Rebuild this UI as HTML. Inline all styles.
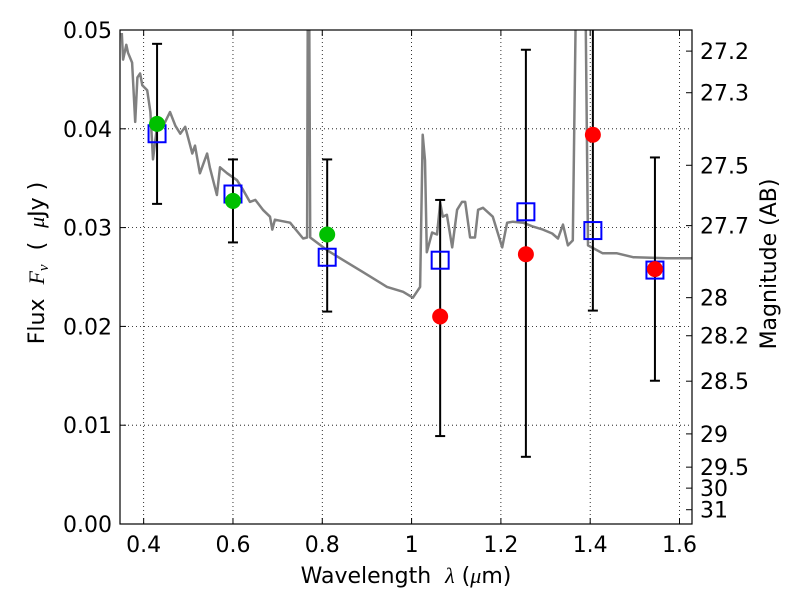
<!DOCTYPE html>
<html><head><meta charset="utf-8">
<style>
body{margin:0;background:#fff;}
svg{display:block;font-family:"DejaVu Sans","Liberation Sans",sans-serif;}
</style></head>
<body>
<svg id="chart" width="800" height="600" viewBox="0 0 800 600">
  <rect width="800" height="600" fill="#fff"/>
  <g id="grid"></g>
  <g id="plot"></g>
  <rect x="120" y="30" width="572" height="494" fill="none" stroke="#000" stroke-width="1.2"/>
  <g id="axes"></g>
  <text x="406" y="583" font-size="22" text-anchor="middle" xml:space="preserve">Wavelength  <tspan font-style="italic" font-family="Liberation Serif, serif">λ</tspan> (<tspan font-style="italic" font-family="Liberation Serif, serif">μ</tspan>m)</text>
  <text transform="translate(44,263) rotate(-90)" font-size="22" text-anchor="middle" xml:space="preserve">Flux  <tspan font-style="italic" font-family="Liberation Serif, serif">F<tspan font-size="15" dy="4">ν</tspan></tspan><tspan dy="-4">  (  </tspan><tspan font-style="italic" font-family="Liberation Serif, serif">μ</tspan>Jy )</text>
  <text transform="translate(776,264) rotate(-90)" font-size="22" text-anchor="middle">Magnitude (AB)</text>
</svg>
<script>
const xTicks=[0.4,0.6,0.8,1.0,1.2,1.4,1.6];
const xTickLabels=["0.4","0.6","0.8","1","1.2","1.4","1.6"];
const yTicks=[0,0.01,0.02,0.03,0.04,0.05];
const yTickLabels=["0.00","0.01","0.02","0.03","0.04","0.05"];
const magTicks=[27.2,27.3,27.5,27.7,28,28.2,28.5,29,29.5,30,31];
const magTickLabels=["27.2","27.3","27.5","27.7","28","28.2","28.5","29","29.5","30","31"];
const specWave=[0.351,0.354,0.361,0.365,0.374,0.381,0.386,0.392,0.397,0.408,0.415,0.421,0.430,0.444,0.459,0.471,0.482,0.493,0.509,0.515,0.526,0.542,0.548,0.564,0.571,0.587,0.609,0.623,0.638,0.650,0.667,0.683,0.688,0.694,0.728,0.757,0.766,0.768,0.770,0.773,0.811,0.847,0.891,0.945,0.981,1.003,1.019,1.025,1.030,1.034,1.046,1.057,1.064,1.070,1.079,1.091,1.102,1.113,1.120,1.131,1.142,1.149,1.160,1.182,1.203,1.214,1.227,1.250,1.272,1.294,1.315,1.328,1.339,1.350,1.361,1.370,1.388,1.395,1.428,1.460,1.496,1.572,1.628];
const specFlux=[0.0497,0.0470,0.0485,0.0477,0.0467,0.0407,0.0452,0.0456,0.0444,0.0439,0.0417,0.0369,0.0403,0.0403,0.0417,0.0403,0.0395,0.0402,0.0375,0.0383,0.0355,0.0375,0.0361,0.0333,0.0361,0.0355,0.0348,0.0338,0.0326,0.0328,0.0318,0.0311,0.0298,0.0308,0.0305,0.0289,0.0290,0.0600,0.0600,0.0290,0.0277,0.0267,0.0255,0.0240,0.0235,0.0229,0.0240,0.0394,0.0368,0.0275,0.0295,0.0293,0.0325,0.0311,0.0313,0.0280,0.0318,0.0326,0.0326,0.0290,0.0290,0.0318,0.0320,0.0311,0.0280,0.0305,0.0306,0.0305,0.0301,0.0298,0.0294,0.0289,0.0303,0.0282,0.0287,0.0600,0.0600,0.0282,0.0274,0.0274,0.0270,0.0269,0.0269];
const bandWave=[0.430,0.600,0.811,1.064,1.256,1.406,1.545];
const modelFlux=[0.0395,0.0334,0.0270,0.0267,0.0316,0.0297,0.0257];
const errHigh=[0.0486,0.0369,0.0369,0.0328,0.0480,0.0520,0.0371];
const errLow=[0.0324,0.0285,0.0215,0.0089,0.0068,0.0216,0.0145];
const detWave=[0.430,0.600,0.811];
const detFlux=[0.0405,0.0327,0.0293];
const upWave=[1.064,1.256,1.406,1.545];
const upFlux=[0.0210,0.0273,0.0394,0.0258];

const X0=120,X1=692,Y0=524,Y1=30,XMIN=0.347,XMAX=1.628,YMIN=0,YMAX=0.05;
const sx=v=>X0+(v-XMIN)/(XMAX-XMIN)*(X1-X0);
const sy=v=>Y0-(v-YMIN)/(YMAX-YMIN)*(Y0-Y1);
const magToFlux=m=>Math.pow(10,(23.9-m)/2.5);
const NS="http://www.w3.org/2000/svg";
function mk(tag,attrs,parent){const e=document.createElementNS(NS,tag);for(const k in attrs)e.setAttribute(k,attrs[k]);parent.appendChild(e);return e;}
const grid=document.getElementById('grid'),plot=document.getElementById('plot'),axes=document.getElementById('axes');
const clip=mk('clipPath',{id:'clip'},document.getElementById('chart'));
mk('rect',{x:X0,y:Y1,width:X1-X0,height:Y0-Y1},clip);
plot.setAttribute('clip-path','url(#clip)');

xTicks.forEach((t,i)=>{const x=sx(t);
 let g=mk('line',{x1:x,x2:x,y1:Y1,y2:Y0,stroke:'#000','stroke-width':0.8,'stroke-dasharray':'1,3'},grid);
 
 mk('line',{x1:x,x2:x,y1:Y0,y2:Y0-6,stroke:'#000'},axes);
 mk('line',{x1:x,x2:x,y1:Y1,y2:Y1+6,stroke:'#000'},axes);
 let l=mk('text',{x:x,y:Y0+28,'font-size':22,'text-anchor':'middle'},axes);l.textContent=xTickLabels[i];
 });
yTicks.forEach((t,i)=>{const y=sy(t);
 if(t>0&&t<0.05){let g=mk('line',{x1:X0,x2:X1,y1:y,y2:y,stroke:'#000','stroke-width':0.8,'stroke-dasharray':'1,3'},grid);
 }
 mk('line',{x1:X0,x2:X0+6,y1:y,y2:y,stroke:'#000'},axes);
 let l=mk('text',{x:X0-8,y:y+8,'font-size':22,'text-anchor':'end'},axes);l.textContent=yTickLabels[i];
 });
magTicks.forEach((m,i)=>{const y=sy(magToFlux(m));
 mk('line',{x1:X1,x2:X1-6,y1:y,y2:y,stroke:'#000'},axes);
 let l=mk('text',{x:X1+8,y:y+8,'font-size':22},axes);l.textContent=magTickLabels[i];
 });

let d=specWave.map((w,i)=>(i?'L':'M')+sx(w).toFixed(1)+','+sy(specFlux[i]).toFixed(1)).join('');
let sp=mk('path',{d:d,fill:'none',stroke:'#808080','stroke-width':2.5,'stroke-linejoin':'round'},plot);


bandWave.forEach((w,i)=>{const x=sx(w);
 let e=mk('line',{x1:x,x2:x,y1:sy(errHigh[i]),y2:sy(errLow[i]),stroke:'#000','stroke-width':2},plot);
 
 [errHigh[i],errLow[i]].forEach(v=>mk('line',{x1:x-5,x2:x+5,y1:sy(v),y2:sy(v),stroke:'#000','stroke-width':2},plot));});
bandWave.forEach((w,i)=>{
 let r=mk('rect',{x:sx(w)-8.5,y:sy(modelFlux[i])-8.5,width:17,height:17,fill:'none',stroke:'#0000ff','stroke-width':2},plot);
 });
detWave.forEach((w,i)=>{
 let c=mk('circle',{cx:sx(w),cy:sy(detFlux[i]),r:8,fill:'#00c000'},plot);
 });
upWave.forEach((w,i)=>{
 let c=mk('circle',{cx:sx(w),cy:sy(upFlux[i]),r:8,fill:'#ff0000'},plot);
 });
</script>
</body></html>
